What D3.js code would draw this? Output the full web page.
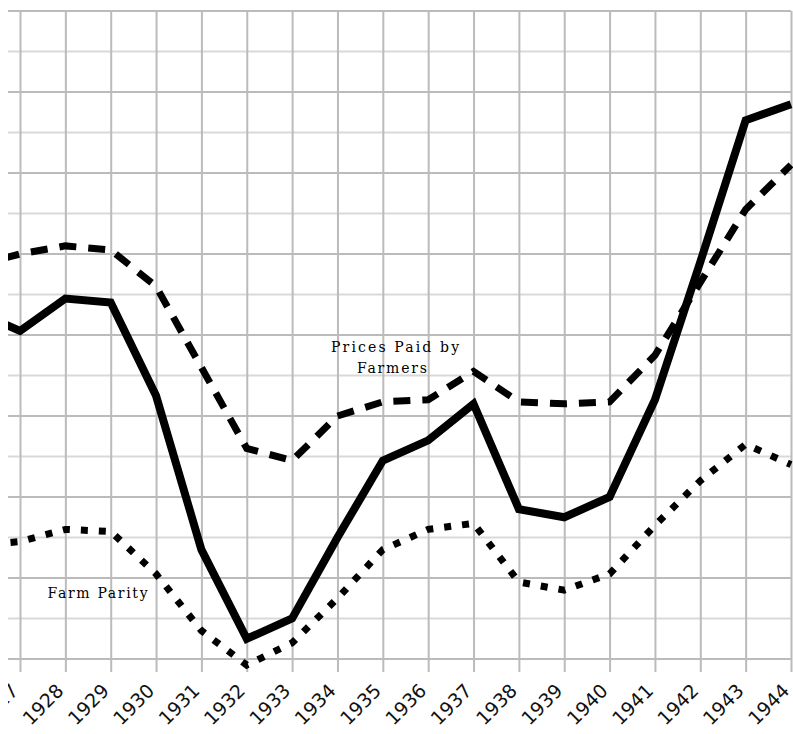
<!DOCTYPE html>
<html>
<head>
<meta charset="utf-8">
<script src="https://cdn.jsdelivr.net/npm/d3@7"></script>
<style>
  body { margin: 0; background: #fff; }
  svg { display: block; }
</style>
</head>
<body>
<svg id="chart" width="793" height="734"></svg>
<script>
// Farm price indexes, 1910-14 = 100
const years = [1926, 1927, 1928, 1929, 1930, 1931, 1932, 1933, 1934, 1935,
               1936, 1937, 1938, 1939, 1940, 1941, 1942, 1943, 1944];
const pricesReceived = [146, 141, 149, 148, 125, 87, 65, 70, 90, 109,
                        114, 123, 97, 95, 100, 124, 158, 193, 197];
const pricesPaid = [157, 160, 162, 161, 152, 132, 112, 109, 120, 123.5,
                    124, 131, 123.5, 123, 123.5, 135, 153, 171, 182];
const farmParity = [88, 89, 92, 91.5, 81, 67, 58.5, 64, 75, 87,
                    92, 93.5, 79, 77, 81, 93, 104, 113, 108];
const tickYears = [1927, 1928, 1929, 1930, 1931, 1932, 1933, 1934, 1935,
                   1936, 1937, 1938, 1939, 1940, 1941, 1942, 1943, 1944];
const tickLabels = tickYears.map(String);
const gridValues = d3.range(60, 221, 10);

const svg = d3.select("#chart");
const plotLeft = 8, plotRight = 791, plotTop = 11, plotBottom = 659;

const x = d3.scaleLinear().domain([1927, 1944]).range([20, plotRight]);
const y = d3.scaleLinear().domain([60, 220]).range([plotBottom, plotTop]);

// everything is trimmed at the left margin of the plot
svg.append("defs").append("clipPath").attr("id", "plot-clip")
  .append("rect")
  .attr("x", plotLeft).attr("y", 0)
  .attr("width", 793 - plotLeft).attr("height", 734);

const root = svg.append("g").attr("clip-path", "url(#plot-clip)");

// horizontal grid: darker every 20 points, lighter in between
root.append("g").selectAll("line").data(gridValues).join("line")
  .attr("x1", plotLeft).attr("x2", plotRight)
  .attr("y1", d => y(d)).attr("y2", d => y(d))
  .attr("stroke", d => (d - 60) % 20 === 0 ? "#bbbbbb" : "#d9d9d9")
  .attr("stroke-width", 2);

// vertical grid lines running down into the ticks
const xAxis = d3.axisBottom(x)
  .tickValues(tickYears)
  .tickFormat((d, i) => tickLabels[i])
  .tickSize(-(plotBottom - plotTop))
  .tickSizeOuter(0);

const gx = root.append("g")
  .attr("transform", `translate(0,${plotBottom})`)
  .call(xAxis);
gx.select(".domain").remove();
gx.selectAll(".tick line")
  .attr("y1", 13)
  .attr("stroke", "#bbbbbb")
  .attr("stroke-width", 2);
gx.append("line")
  .attr("x1", plotLeft).attr("x2", plotRight)
  .attr("stroke", "#bbbbbb").attr("stroke-width", 2);
gx.selectAll(".tick text")
  .attr("font-family", "'DejaVu Sans', Verdana, sans-serif")
  .attr("font-size", 19)
  .attr("fill", "#111")
  .attr("text-anchor", "end")
  .attr("dy", null)
  .attr("y", null)
  .attr("transform", "translate(-1,33) rotate(-45)");

// series lines
const line = vals => d3.line()
  .x((d, i) => x(years[i]))
  .y(d => y(d))(vals);

const series = root.append("g");
series.append("path")
  .attr("d", line(farmParity))
  .attr("fill", "none").attr("stroke", "#000")
  .attr("stroke-width", 7).attr("stroke-dasharray", "7 11");
series.append("path")
  .attr("d", line(pricesPaid))
  .attr("fill", "none").attr("stroke", "#000")
  .attr("stroke-width", 7).attr("stroke-dasharray", "17 12");
series.append("path")
  .attr("d", line(pricesReceived))
  .attr("fill", "none").attr("stroke", "#000")
  .attr("stroke-width", 8).attr("stroke-linejoin", "miter");

// series labels
const labelFont = "'DejaVu Serif', 'Liberation Serif', serif";
const paid = svg.append("text")
  .attr("font-family", labelFont).attr("font-size", 14)
  .attr("fill", "#000").attr("text-anchor", "middle");
paid.append("tspan")
  .attr("x", x(1935.27)).attr("y", y(135.8))
  .attr("textLength", 128).attr("lengthAdjust", "spacing")
  .text("Prices Paid by");
paid.append("tspan")
  .attr("x", x(1935.2)).attr("y", y(130.6))
  .attr("textLength", 70).attr("lengthAdjust", "spacing")
  .text("Farmers");

svg.append("text")
  .attr("x", x(1928.71)).attr("y", y(75.1))
  .attr("font-family", labelFont).attr("font-size", 14)
  .attr("fill", "#000").attr("text-anchor", "middle")
  .attr("textLength", 100).attr("lengthAdjust", "spacing")
  .text("Farm Parity");
</script>
</body>
</html>
